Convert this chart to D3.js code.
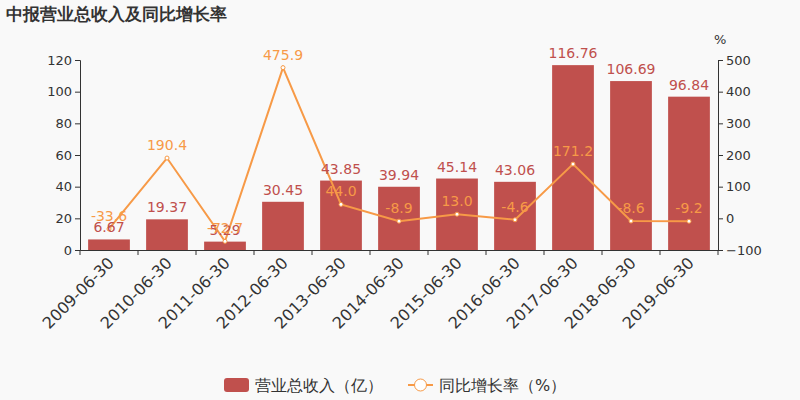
<!DOCTYPE html><html><head><meta charset="utf-8"><script src="https://cdn.jsdelivr.net/npm/d3@7"></script>
<style>body{margin:0;background:#f9f9f9;font-family:"DejaVu Sans",sans-serif}</style></head><body><svg id="c" width="800" height="400"></svg><script>
const categories=["2009-06-30","2010-06-30","2011-06-30","2012-06-30","2013-06-30","2014-06-30","2015-06-30","2016-06-30","2017-06-30","2018-06-30","2019-06-30"];
const revenue=[6.67,19.37,5.29,30.45,43.85,39.94,45.14,43.06,116.76,106.69,96.84];
const growth=[-33.6,190.4,-72.7,475.9,44.0,-8.9,13.0,-4.6,171.2,-8.6,-9.2];
const leftTicks=[0,20,40,60,80,100,120], rightTicks=[-100,0,100,200,300,400,500];
const svg=d3.select("#c");
svg.append("rect").attr("width",800).attr("height",400).attr("fill","#f9f9f9");
const L=80,R=718,T=60,B=250;
const x=d3.scaleBand().domain(categories).range([L,R]).paddingInner(0.28).paddingOuter(0.14);
const y=d3.scaleLinear().domain([0,120]).range([B,T]);
const y2=d3.scaleLinear().domain([-100,500]).range([B,T]);
svg.append("text").attr("x",6).attr("y",20).attr("font-size",17).attr("font-weight","bold").attr("fill","#333").text("中报营业总收入及同比增长率");
const ga=svg.append("g").attr("transform",`translate(${L},0)`).call(d3.axisLeft(y).tickValues(leftTicks).tickSize(5));
const gb=svg.append("g").attr("transform",`translate(${R},0)`).call(d3.axisRight(y2).tickValues(rightTicks).tickSize(5));
const gx=svg.append("g").attr("transform",`translate(0,${B})`).call(d3.axisBottom(d3.scaleLinear().range([L,R])).tickValues([]).tickSizeOuter(0));
svg.append("g").selectAll("line").data(d3.range(12)).join("line").attr("x1",d=>L+(R-L)/11*d).attr("x2",d=>L+(R-L)/11*d).attr("y1",B).attr("y2",B+5).attr("stroke","#333");
[ga,gb,gx].forEach(g=>{g.selectAll("path,line").attr("stroke","#333");g.selectAll("text").attr("font-size",13).attr("fill","#333").attr("font-family","DejaVu Sans");});
svg.append("text").attr("x",714).attr("y",44).attr("font-size",13).attr("fill","#333").text("%");
svg.append("g").selectAll("text").data(categories).join("text").attr("font-size",16).attr("fill","#333")
 .attr("text-anchor","end").attr("transform",d=>`translate(${x(d)+x.bandwidth()/2+6},${B+14}) rotate(-45)`).text(d=>d);
svg.append("g").selectAll("rect").data(revenue).join("rect").attr("x",(d,i)=>x(categories[i])).attr("width",x.bandwidth())
 .attr("y",d=>y(d)).attr("height",d=>B-y(d)).attr("fill","#c0504d");
const cx=(i)=>x(categories[i])+x.bandwidth()/2;
svg.append("path").datum(growth).attr("fill","none").attr("stroke","#f79a47").attr("stroke-width",2)
 .attr("d",d3.line().x((d,i)=>cx(i)).y(d=>y2(d)));
svg.append("g").selectAll("circle").data(growth).join("circle").attr("cx",(d,i)=>cx(i)).attr("cy",d=>y2(d)).attr("r",2).attr("fill","#fff").attr("stroke","#f79a47");
svg.append("g").selectAll("text").data(revenue).join("text").attr("x",(d,i)=>cx(i)).attr("y",d=>y(d)-7).attr("text-anchor","middle")
 .attr("font-size",14).attr("fill","#c0504d").text(d=>d.toFixed(2));
svg.append("g").selectAll("text").data(growth).join("text").attr("x",(d,i)=>cx(i)).attr("y",d=>y2(d)-8).attr("text-anchor","middle")
 .attr("font-size",14).attr("fill","#f79a47").text(d=>d.toFixed(1));
const lg=svg.append("g");
lg.append("rect").attr("x",224).attr("y",378).attr("width",25).attr("height",14).attr("rx",3).attr("fill","#c0504d");
lg.append("text").attr("x",255).attr("y",391).attr("font-size",16).attr("fill","#333").text("营业总收入（亿）");
lg.append("line").attr("x1",408).attr("x2",433).attr("y1",385).attr("y2",385).attr("stroke","#f79a47").attr("stroke-width",2);
lg.append("circle").attr("cx",420.5).attr("cy",385).attr("r",6).attr("fill","#fff").attr("stroke","#f79a47");
lg.append("text").attr("x",439).attr("y",391).attr("font-size",16).attr("fill","#333").text("同比增长率（%）");
</script></body></html>
